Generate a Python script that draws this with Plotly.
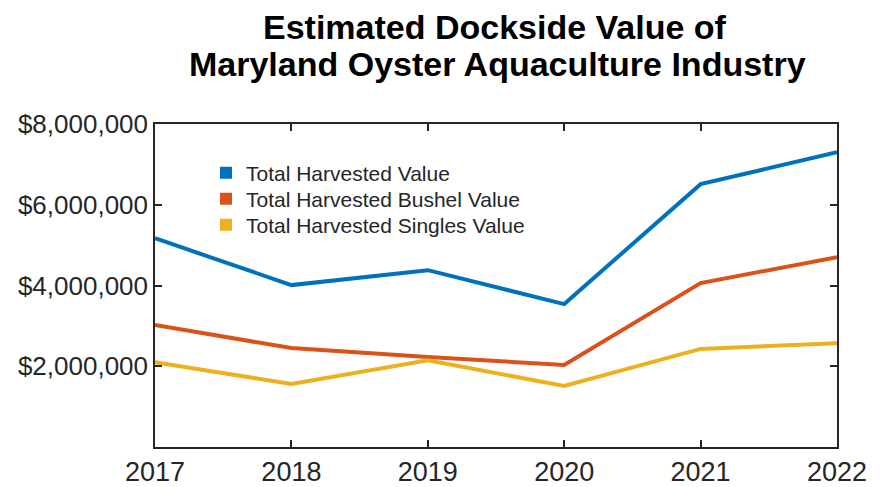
import plotly.graph_objects as go

years = [2017, 2018, 2019, 2020, 2021, 2022]
total_value = [5170000, 4010000, 4380000, 3540000, 6510000, 7300000]
bushel_value = [3020000, 2450000, 2230000, 2030000, 4060000, 4700000]
singles_value = [2100000, 1560000, 2150000, 1510000, 2430000, 2570000]
series_names = ["Total Harvested Value", "Total Harvested Bushel Value", "Total Harvested Singles Value"]
y_tickvals = [2000000, 4000000, 6000000, 8000000]
y_ticktext = ["$2,000,000", "$4,000,000", "$6,000,000", "$8,000,000"]

colors = ["#0072BD", "#D95319", "#EDB120"]
FONT = "Liberation Sans, Arial, sans-serif"
AX = "#262626"

# page body has an 8px margin, so the figure is drawn 8px in from the top-left
OFF = 8
L, R, T, B = 155 - OFF, 47, 124 - OFF, 40
W, H = 884 - OFF, 487 - OFF
PLOT_BOTTOM = 447
PLOT_H = H - T - B
PLOT_LEFT = 155
PLOT_W = W - L - R


def py(p):
    return (PLOT_BOTTOM - p) / PLOT_H


def px(p):
    return (p - PLOT_LEFT) / PLOT_W


fig = go.Figure()
series = [total_value, bushel_value, singles_value]
legends = ["legend", "legend2", "legend3"]
for name, vals, col, lg in zip(series_names, series, colors, legends):
    fig.add_trace(go.Scatter(x=years, y=vals, mode="lines", name=name,
                             line=dict(color=col, width=4), showlegend=False))
    fig.add_trace(go.Scatter(x=[None], y=[None], mode="markers", name=name,
                             marker=dict(symbol="square", size=12, color=col),
                             legend=lg, showlegend=True))


def leg(ypx):
    return dict(x=px(206), y=py(ypx), xanchor="left", yanchor="middle",
                bgcolor="rgba(0,0,0,0)", font=dict(family=FONT, size=21, color=AX),
                itemwidth=30)


fig.update_layout(
    width=W, height=H,
    margin=dict(l=L, r=R, t=T, b=B),
    paper_bgcolor="white", plot_bgcolor="white",
    legend=leg(173), legend2=leg(199), legend3=leg(225),
    xaxis=dict(range=[2017, 2022], tickvals=years, ticktext=[str(y) for y in years],
               showgrid=False, zeroline=False, showline=True, linecolor=AX, linewidth=1.5,
               mirror="allticks", ticks="inside", ticklen=7, tickwidth=1.5, tickcolor=AX,
               automargin=False,
               tickfont=dict(family=FONT, size=27, color=AX)),
    yaxis=dict(range=[0, 8000000], tickvals=y_tickvals, ticktext=y_ticktext,
               showgrid=False, zeroline=False, showline=True, linecolor=AX, linewidth=1.5,
               mirror="allticks", ticks="inside", ticklen=7, tickwidth=1.5, tickcolor=AX,
               automargin=False,
               tickfont=dict(family=FONT, size=26, color=AX)),
    annotations=[
        dict(text="<b>Estimated Dockside Value of</b>", xref="paper", yref="paper",
             x=px(495), y=py(27), xanchor="center", yanchor="middle", showarrow=False,
             font=dict(family=FONT, size=34, color="black")),
        dict(text="<b>Maryland Oyster Aquaculture Industry</b>", xref="paper", yref="paper",
             x=px(497), y=py(63.5), xanchor="center", yanchor="middle", showarrow=False,
             font=dict(family=FONT, size=34, color="black")),
    ],
)

fig.write_html("out.html")
